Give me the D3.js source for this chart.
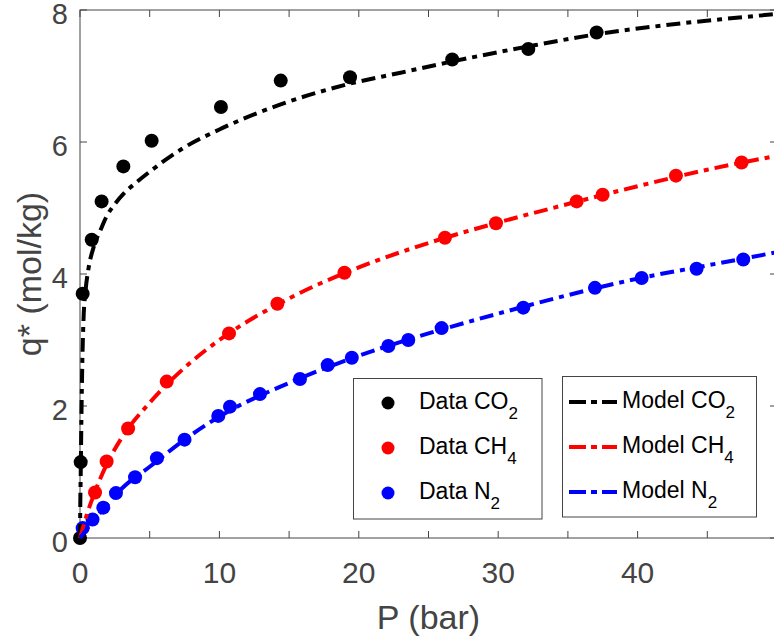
<!DOCTYPE html>
<html>
<head>
<meta charset="utf-8">
<script src="https://cdn.jsdelivr.net/npm/d3@7"></script>
<style>
  body { margin: 0; background: #fff; }
  svg { display: block; font-family: "Liberation Sans", Arial, Helvetica, sans-serif; }
</style>
</head>
<body>
<div id="chart"></div>
<script>
// measured isotherm data, P in bar, q* in mol/kg
var co2P = [0, 0.05, 0.19, 0.84, 1.55, 3.11, 5.14, 10.11, 14.4, 19.37, 26.7, 32.16, 37.06];
var co2Q = [0, 1.15, 3.70, 4.52, 5.10, 5.63, 6.02, 6.53, 6.93, 6.98, 7.25, 7.41, 7.66];

var ch4P = [1.08, 1.91, 3.45, 6.22, 10.69, 14.16, 18.97, 26.18, 29.84, 35.63, 37.49, 42.75, 47.46];
var ch4Q = [0.69, 1.16, 1.66, 2.37, 3.10, 3.55, 4.02, 4.55, 4.77, 5.10, 5.20, 5.49, 5.69];

var n2P = [0.19, 0.9, 1.67, 2.58, 3.95, 5.52, 7.5, 9.92, 10.76, 12.91, 15.78, 17.77, 19.5, 22.12, 23.55, 25.94, 31.8, 36.94, 40.29, 44.23, 47.58];
var n2Q = [0.15, 0.28, 0.46, 0.68, 0.92, 1.21, 1.49, 1.85, 1.99, 2.18, 2.41, 2.62, 2.73, 2.91, 3.00, 3.18, 3.49, 3.79, 3.94, 4.08, 4.22];

// model curves
var co2ModelP = [0, 0.02, 0.05, 0.1, 0.17, 0.25, 0.4, 0.6, 1, 1.5, 1.9, 2.5, 3.1, 4, 5, 7.5, 10, 14.4, 19.1, 23, 26.7, 32.2, 37, 42, 46, 50];
var co2ModelQ = [0, 0.5, 0.95, 1.8, 2.7, 3.3, 3.75, 4.07, 4.42, 4.68, 4.87, 5.06, 5.21, 5.38, 5.55, 5.92, 6.19, 6.57, 6.87, 7.05, 7.22, 7.45, 7.63, 7.77, 7.86, 7.94];

var ch4ModelP = [0, 0.5, 1, 2, 3, 5, 7.5, 10, 15, 20, 25, 30, 35, 40, 45, 50];
var ch4ModelQ = [0, 0.36, 0.66, 1.15, 1.52, 2.05, 2.58, 3.0, 3.63, 4.1, 4.47, 4.78, 5.06, 5.33, 5.58, 5.79];

var n2ModelP = [0, 1, 2, 3, 5, 7.5, 10, 15, 20, 25, 30, 35, 40, 45, 50];
var n2ModelQ = [0, 0.27, 0.52, 0.75, 1.08, 1.49, 1.84, 2.35, 2.76, 3.10, 3.40, 3.68, 3.93, 4.13, 4.33];

var xTicks = [0, 5, 10, 15, 20, 25, 30, 35, 40, 45, 50];
var xLabels = [0, 10, 20, 30, 40];
var yTicks = [0, 2, 4, 6, 8];

var series = [
  { name: "CO", sub: "2", color: "#000000", P: co2P, Q: co2Q, mP: co2ModelP, mQ: co2ModelQ },
  { name: "CH", sub: "4", color: "#ff0000", P: ch4P, Q: ch4Q, mP: ch4ModelP, mQ: ch4ModelQ },
  { name: "N", sub: "2", color: "#0000ff", P: n2P, Q: n2Q, mP: n2ModelP, mQ: n2ModelQ }
];

var width = 774, height = 642;
var margin = { left: 80, top: 10, right: 777, bottom: 538 };
var axisColor = "#444444";
var dash = "14,6,5,6";

var svg = d3.select("#chart").append("svg")
    .attr("width", width)
    .attr("height", height);

var x = d3.scaleLinear().domain([0, 50]).range([margin.left, margin.right]);
var y = d3.scaleLinear().domain([0, 8]).range([margin.bottom, margin.top]);

// axes box with inward ticks on all four sides
var axes = svg.append("g");
axes.append("rect")
    .attr("x", margin.left)
    .attr("y", margin.top)
    .attr("width", margin.right - margin.left)
    .attr("height", margin.bottom - margin.top)
    .attr("fill", "none")
    .attr("stroke", axisColor)
    .attr("stroke-width", 1);

var tickLen = 7;
xTicks.forEach(function(t) {
  axes.append("line").attr("x1", x(t)).attr("x2", x(t))
      .attr("y1", margin.bottom).attr("y2", margin.bottom - tickLen)
      .attr("stroke", axisColor);
  axes.append("line").attr("x1", x(t)).attr("x2", x(t))
      .attr("y1", margin.top).attr("y2", margin.top + tickLen)
      .attr("stroke", axisColor);
});
yTicks.forEach(function(t) {
  axes.append("line").attr("x1", margin.left).attr("x2", margin.left + tickLen)
      .attr("y1", y(t)).attr("y2", y(t))
      .attr("stroke", axisColor);
  axes.append("line").attr("x1", margin.right).attr("x2", margin.right - tickLen)
      .attr("y1", y(t)).attr("y2", y(t))
      .attr("stroke", axisColor);
});

axes.selectAll(".xlab")
    .data(xLabels)
    .enter().append("text")
    .attr("class", "xlab")
    .attr("x", d => x(d))
    .attr("y", 583)
    .attr("text-anchor", "middle")
    .attr("font-size", 30)
    .attr("fill", axisColor)
    .text(d => d);

axes.selectAll(".ylab")
    .data(yTicks)
    .enter().append("text")
    .attr("class", "ylab")
    .attr("x", 68)
    .attr("y", d => y(d) + 14)
    .attr("text-anchor", "end")
    .attr("font-size", 29)
    .attr("fill", axisColor)
    .text(d => d);

svg.append("text")
    .attr("x", (margin.left + margin.right) / 2)
    .attr("y", 629)
    .attr("text-anchor", "middle")
    .attr("font-size", 34)
    .attr("fill", axisColor)
    .text("P (bar)");

svg.append("text")
    .attr("transform", "translate(41," + ((margin.top + margin.bottom) / 2) + ") rotate(-90)")
    .attr("text-anchor", "middle")
    .attr("font-size", 34)
    .attr("fill", axisColor)
    .text("q* (mol/kg)");

// data points
var plot = svg.append("g");
series.forEach(function(s) {
  plot.selectAll(null)
      .data(d3.zip(s.P, s.Q))
      .enter().append("circle")
      .attr("cx", d => x(d[0]))
      .attr("cy", d => y(d[1]))
      .attr("r", 7)
      .attr("fill", s.color);
});

// model lines
var line = d3.line()
    .x(d => x(d[0]))
    .y(d => y(d[1]))
    .curve(d3.curveMonotoneX);

series.forEach(function(s) {
  plot.append("path")
      .datum(d3.zip(s.mP, s.mQ))
      .attr("d", line)
      .attr("fill", "none")
      .attr("stroke", s.color)
      .attr("stroke-width", 4)
      .attr("stroke-dasharray", dash);
});

// legends
function addLabel(g, xPos, yPos, prefix, s) {
  var t = g.append("text")
      .attr("x", xPos)
      .attr("y", yPos)
      .attr("font-size", 23)
      .attr("fill", "#000");
  t.append("tspan").text(prefix + s.name);
  t.append("tspan").attr("font-size", 17).attr("dy", 10).text(s.sub);
}

var legData = svg.append("g");
legData.append("rect")
    .attr("x", 353.5).attr("y", 378.5)
    .attr("width", 188.5).attr("height", 140.5)
    .attr("fill", "#fff")
    .attr("stroke", axisColor);
var rowsLeft = [403, 448, 493];
series.forEach(function(s, i) {
  legData.append("circle")
      .attr("cx", 388).attr("cy", rowsLeft[i])
      .attr("r", 6.5)
      .attr("fill", s.color);
  addLabel(legData, 419, rowsLeft[i] + 6, "Data ", s);
});

var legModel = svg.append("g");
legModel.append("rect")
    .attr("x", 562.5).attr("y", 376.5)
    .attr("width", 194).attr("height", 140.5)
    .attr("fill", "#fff")
    .attr("stroke", axisColor);
var rowsRight = [402, 447, 492];
series.forEach(function(s, i) {
  legModel.append("line")
      .attr("x1", 569).attr("x2", 617)
      .attr("y1", rowsRight[i]).attr("y2", rowsRight[i])
      .attr("stroke", s.color)
      .attr("stroke-width", 4)
      .attr("stroke-dasharray", "17,5,6,5");
  addLabel(legModel, 622, rowsRight[i] + 6, "Model ", s);
});
</script>
</body>
</html>
